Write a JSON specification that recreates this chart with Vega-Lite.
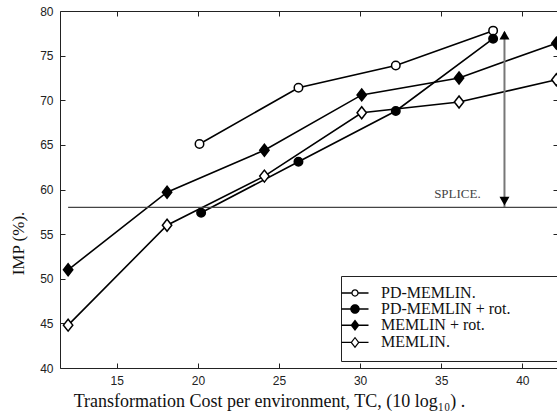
{
  "$schema": "https://vega.github.io/schema/vega-lite/v6.json",
  "width": 498,
  "height": 357,
  "autosize": {"type": "none"},
  "padding": {"left": 60, "top": 11, "right": 0, "bottom": 47},
  "background": "white",
  "config": {
    "view": {"stroke": null},
    "axis": {
      "grid": false,
      "domainColor": "#222",
      "tickColor": "#222",
      "labelFont": "Liberation Sans",
      "labelFontSize": 12,
      "labelColor": "#222",
      "tickSize": -5,
      "titleFont": "Liberation Serif",
      "titleFontWeight": "normal",
      "titleColor": "#111",
      "titleFontSize": 17
    }
  },
  "datasets": {
    "series": [
      {"method": "PD-MEMLIN.", "tc": 20.1, "imp": 65.1},
      {"method": "PD-MEMLIN.", "tc": 26.2, "imp": 71.4},
      {"method": "PD-MEMLIN.", "tc": 32.2, "imp": 73.9},
      {"method": "PD-MEMLIN.", "tc": 38.2, "imp": 77.8},
      {"method": "PD-MEMLIN + rot.", "tc": 20.2, "imp": 57.4},
      {"method": "PD-MEMLIN + rot.", "tc": 26.2, "imp": 63.1},
      {"method": "PD-MEMLIN + rot.", "tc": 32.2, "imp": 68.8},
      {"method": "PD-MEMLIN + rot.", "tc": 38.2, "imp": 76.9},
      {"method": "MEMLIN + rot.", "tc": 12.0, "imp": 51.0},
      {"method": "MEMLIN + rot.", "tc": 18.1, "imp": 59.7},
      {"method": "MEMLIN + rot.", "tc": 24.1, "imp": 64.4},
      {"method": "MEMLIN + rot.", "tc": 30.1, "imp": 70.6},
      {"method": "MEMLIN + rot.", "tc": 36.1, "imp": 72.5},
      {"method": "MEMLIN + rot.", "tc": 42.1, "imp": 76.4},
      {"method": "MEMLIN.", "tc": 12.0, "imp": 44.8},
      {"method": "MEMLIN.", "tc": 18.1, "imp": 56.0},
      {"method": "MEMLIN.", "tc": 24.1, "imp": 61.5},
      {"method": "MEMLIN.", "tc": 30.1, "imp": 68.6},
      {"method": "MEMLIN.", "tc": 36.1, "imp": 69.8},
      {"method": "MEMLIN.", "tc": 42.1, "imp": 72.3}
    ],
    "splice": [{"tc": 12.0, "tc2": 42.2, "imp": 58.0}],
    "arrow": [{"tc": 38.9, "imp": 58.0, "imp2": 77.6}],
    "headUp": [{"tc": 38.9, "imp": 77.3}],
    "headDown": [{"tc": 38.9, "imp": 58.7}],
    "note": [{"tc": 36.0, "imp": 59.1, "text": "SPLICE."}]
  },
  "layer": [
    {
      "layer": [
        {
          "data": {"name": "series"},
          "mark": {"type": "line", "color": "black", "strokeWidth": 1.6},
          "encoding": {
            "x": {
              "field": "tc", "type": "quantitative",
              "scale": {"domain": [11.5, 42.2], "nice": false, "zero": false},
              "axis": {
                "orient": "bottom",
                "values": [15, 20, 25, 30, 35, 40],
                "labelPadding": 12,
                "title": "Transformation Cost per environment, TC, (10 log₁₀) .",
                "titleFontSize": 18,
                "titleX": 209,
                "titleY": 38,
                "titleAlign": "center",
                "titleBaseline": "alphabetic"
              }
            },
            "y": {
              "field": "imp", "type": "quantitative",
              "scale": {"domain": [40, 80], "nice": false, "zero": false},
              "axis": {
                "orient": "left",
                "values": [40, 45, 50, 55, 60, 65, 70, 75, 80],
                "labelPadding": 12,
                "title": "IMP (%).",
                "titleAngle": 270,
                "titleX": -42,
                "titleY": 232,
                "titleAlign": "center",
                "titleBaseline": "middle"
              }
            },
            "detail": {"field": "method", "type": "nominal"}
          }
        },
        {
          "data": {"name": "series"},
          "mark": {"type": "point", "stroke": "black", "strokeWidth": 1.5, "opacity": 1, "size": 121},
          "encoding": {
            "x": {"field": "tc", "type": "quantitative"},
            "y": {"field": "imp", "type": "quantitative"},
            "shape": {
              "field": "method", "type": "nominal",
              "scale": {
                "domain": ["PD-MEMLIN.", "PD-MEMLIN + rot.", "MEMLIN + rot.", "MEMLIN."],
                "range": [
                  "M0.77,0A0.77,0.77,0,1,1,-0.77,0A0.77,0.77,0,1,1,0.77,0Z",
                  "M0.77,0A0.77,0.77,0,1,1,-0.77,0A0.77,0.77,0,1,1,0.77,0Z",
                  "M0,-1.09L0.85,0L0,1.09L-0.85,0Z",
                  "M0,-1.09L0.85,0L0,1.09L-0.85,0Z"
                ]
              },
              "legend": null
            },
            "fill": {
              "field": "method", "type": "nominal",
              "scale": {
                "domain": ["PD-MEMLIN.", "PD-MEMLIN + rot.", "MEMLIN + rot.", "MEMLIN."],
                "range": ["white", "black", "black", "white"]
              },
              "legend": null
            }
          }
        },
        {
          "data": {"name": "series"},
          "mark": {"type": "point", "filled": true, "fill": "black", "opacity": 0, "size": 196},
          "encoding": {
            "x": {"field": "tc", "type": "quantitative"},
            "y": {"field": "imp", "type": "quantitative"},
            "shape": {
              "field": "method", "type": "nominal",
              "scale": {
                "domain": ["PD-MEMLIN.", "PD-MEMLIN + rot.", "MEMLIN + rot.", "MEMLIN."],
                "range": [
                  "M-1.93,-0.09L-0.5,-0.09L-0.5,0.09L-1.93,0.09ZM0.5,-0.09L1.93,-0.09L1.93,0.09L0.5,0.09ZM0.52,0A0.52,0.52,0,1,1,-0.52,0A0.52,0.52,0,1,1,0.52,0ZM0.34,0A0.34,0.34,0,1,0,-0.34,0A0.34,0.34,0,1,0,0.34,0Z",
                  "M-1.93,-0.1L-0.6,-0.1L-0.6,0.1L-1.93,0.1ZM0.6,-0.1L1.93,-0.1L1.93,0.1L0.6,0.1ZM0.68,0A0.68,0.68,0,1,1,-0.68,0A0.68,0.68,0,1,1,0.68,0Z",
                  "M-1.93,-0.1L-0.55,-0.1L-0.55,0.1L-1.93,0.1ZM0.55,-0.1L1.93,-0.1L1.93,0.1L0.55,0.1ZM0,-0.82L0.64,0L0,0.82L-0.64,0Z",
                  "M-1.93,-0.09L-0.55,-0.09L-0.55,0.09L-1.93,0.09ZM0.55,-0.09L1.93,-0.09L1.93,0.09L0.55,0.09ZM0,-0.82L0.64,0L0,0.82L-0.64,0ZM0,-0.56L-0.42,0L0,0.56L0.42,0Z"
                ]
              },
              "legend": {
                "orient": "none",
                "legendX": 281,
                "legendY": 265,
                "title": null,
                "padding": 9,
                "fillColor": "white",
                "strokeColor": "#222",
                "labelFont": "Liberation Serif",
                "labelFontSize": 16,
                "labelColor": "#111",
                "labelLimit": 400,
                "labelOffset": 18,
                "symbolOffset": -3,
                "symbolSize": 196,
                "symbolOpacity": 1,
                "symbolFillColor": "black",
                "rowPadding": -0.8,
                "labelExpr": "datum.label + '\u00a0\u00a0\u00a0\u00a0\u00a0\u00a0\u00a0\u00a0\u00a0\u00a0\u200b'"
              }
            }
          }
        },
        {
          "data": {"name": "arrow"},
          "mark": {"type": "rule", "color": "#777", "strokeWidth": 2},
          "encoding": {
            "x": {"field": "tc", "type": "quantitative"},
            "y": {"field": "imp", "type": "quantitative"},
            "y2": {"field": "imp2"}
          }
        },
        {
          "data": {"name": "headUp"},
          "mark": {"type": "point", "shape": "triangle-up", "filled": true, "color": "black", "size": 100, "opacity": 1},
          "encoding": {
            "x": {"field": "tc", "type": "quantitative"},
            "y": {"field": "imp", "type": "quantitative"}
          }
        },
        {
          "data": {"name": "headDown"},
          "mark": {"type": "point", "shape": "triangle-down", "filled": true, "color": "black", "size": 100, "opacity": 1},
          "encoding": {
            "x": {"field": "tc", "type": "quantitative"},
            "y": {"field": "imp", "type": "quantitative"}
          }
        },
        {
          "data": {"name": "note"},
          "mark": {"type": "text", "font": "Liberation Serif", "fontSize": 13, "color": "#444", "align": "center", "baseline": "alphabetic"},
          "encoding": {
            "x": {"field": "tc", "type": "quantitative"},
            "y": {"field": "imp", "type": "quantitative"},
            "text": {"field": "text"}
          }
        }
      ],
      "resolve": {"scale": {"shape": "independent"}}
    },
    {
      "data": {"name": "splice"},
      "mark": {"type": "rule", "color": "#444", "strokeWidth": 1.3},
      "encoding": {
        "x": {
          "field": "tc", "type": "quantitative",
          "axis": {"orient": "top", "labels": false, "title": null, "values": [15, 20, 25, 30, 35, 40]}
        },
        "x2": {"field": "tc2"},
        "y": {
          "field": "imp", "type": "quantitative",
          "axis": {"orient": "right", "labels": false, "title": null, "values": [40, 45, 50, 55, 60, 65, 70, 75, 80]}
        }
      }
    }
  ],
  "resolve": {"axis": {"x": "independent", "y": "independent"}}
}
